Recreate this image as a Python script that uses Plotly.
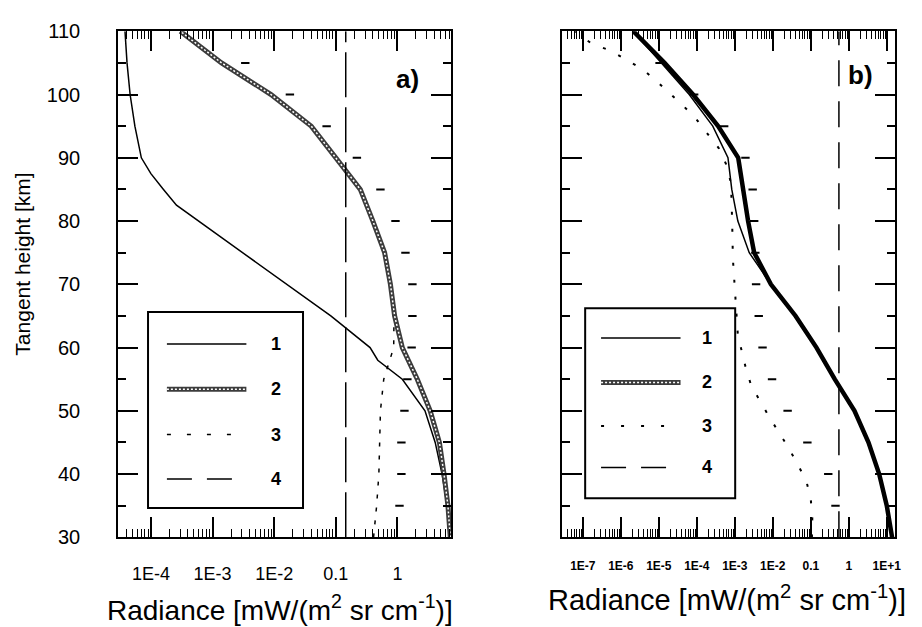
import plotly.graph_objects as go

# ---------------- panel a) ----------------
h_a1 = [30, 35, 40, 45, 50, 55, 58, 60, 65, 70, 75, 80, 82.5, 85, 87.5, 90, 95, 100, 105, 110]
rad_a1 = [7.2, 6.4, 5.3, 4.1, 2.8, 1.2, 0.48, 0.36, 0.083, 0.016, 3.2e-3, 5.9e-4, 2.6e-4,
          1.6e-4, 1.0e-4, 7e-5, 5.5e-5, 4.6e-5, 4.1e-5, 3.8e-5]

h_a2 = [30, 35, 40, 45, 50, 55, 60, 65, 70, 75, 80, 85, 90, 95, 100, 105, 110]
rad_a2 = [7.2, 6.6, 5.7, 4.8, 3.4, 2.1, 1.2, 0.9, 0.77, 0.62, 0.4, 0.25, 0.10, 0.04,
          8.9e-3, 1.4e-3, 3.0e-4]

h_a3 = [30, 35, 40, 45, 50, 55, 57.5, 60, 65, 70, 75, 80, 85, 90, 95, 100, 105, 110]
rad_a3 = [0.41, 0.46, 0.50, 0.51, 0.53, 0.60, 0.72, 0.87, 0.88, 0.75, 0.60, 0.39, 0.24,
          0.097, 0.038, 8.5e-3, 1.35e-3, 2.9e-4]

h_a4 = [30, 110]
rad_a4 = [0.145, 0.145]

h_a_tick = [35, 40, 45, 50, 55, 60, 65, 70, 75, 80, 85, 90, 95, 100, 105]
rad_a_tick = [1.08, 1.16, 1.16, 1.3, 1.45, 1.7, 1.75, 1.75, 1.35, 0.93, 0.53, 0.22,
              0.071, 0.018, 3.4e-3]

# ---------------- panel b) ----------------
h_b = [30, 35, 40, 45, 50, 55, 60, 65, 70, 75, 80, 85, 90, 95, 100, 105, 110]
log_b1 = [1.14, 1.0, 0.80, 0.52, 0.15, -0.37, -0.85, -1.40, -2.05, -2.62, -2.92, -3.08,
          -3.18, -3.58, -4.20, -4.93, -5.67]
log_b2 = [1.14, 1.0, 0.80, 0.52, 0.15, -0.37, -0.85, -1.40, -2.05, -2.49, -2.65, -2.78,
          -2.91, -3.44, -4.10, -4.85, -5.67]

h_b3 = [30, 33, 36, 39, 44, 49, 54, 57, 62, 68, 74, 80, 86, 89, 91.5, 93.5, 96, 98, 100,
        102, 104, 105.5, 107, 108, 110]
log_b3 = [-0.97, -0.96, -1.0, -1.12, -1.57, -2.09, -2.57, -2.72, -2.92, -2.98, -3.05,
          -3.07, -3.10, -3.23, -3.42, -3.68, -4.0, -4.32, -4.67, -5.04, -5.43, -5.85,
          -6.29, -6.76, -7.2]

h_b4 = [30, 110]
rad_b4 = [0.55, 0.55]

h_b_tick = [35, 40, 45, 50, 55, 60, 65, 70, 75, 80, 85, 90, 95, 100, 105]
log_b_tick = [-0.35, -0.54, -1.09, -1.61, -2.02, -2.27, -2.37, -2.44, -2.46, -2.49,
              -2.53, -2.72, -3.28, -4.07, -4.98]

heights = [30, 40, 50, 60, 70, 80, 90, 100, 110]
ticks_a = [1e-4, 1e-3, 1e-2, 0.1, 1]
ticklabels_a = ["1E-4", "1E-3", "1E-2", "0.1", "1"]
ticks_b = [1e-7, 1e-6, 1e-5, 1e-4, 1e-3, 1e-2, 0.1, 1, 10]
ticklabels_b = ["1E-7", "1E-6", "1E-5", "1E-4", "1E-3", "1E-2", "0.1", "1", "1E+1"]

FONT = "Liberation Sans, Arial, sans-serif"
W, H = 922, 627


def px(x):
    return x / W


def py(y):
    return 1 - y / H


def pow10(vals):
    return [10 ** v for v in vals]


def minor_vals(e_lo, e_hi):
    return [m * 10.0 ** e for e in range(e_lo, e_hi + 1) for m in range(2, 10)]


fig = go.Figure()

# panel a curves
fig.add_trace(go.Scatter(x=rad_a1, y=h_a1, mode="lines", line=dict(color="black", width=1.5),
                         name="1", xaxis="x", yaxis="y"))
fig.add_trace(go.Scatter(x=rad_a3, y=h_a3, mode="lines",
                         line=dict(color="black", width=1.5, dash="4px,9px"),
                         name="3", xaxis="x", yaxis="y"))
fig.add_trace(go.Scatter(x=rad_a2, y=h_a2, mode="lines", line=dict(color="#3c3c3c", width=5),
                         name="2", xaxis="x", yaxis="y"))
fig.add_trace(go.Scatter(x=rad_a2, y=h_a2, mode="lines",
                         line=dict(color="white", width=1.5, dash="2px,2px"),
                         showlegend=False, hoverinfo="skip", xaxis="x", yaxis="y"))
fig.add_trace(go.Scatter(x=rad_a4, y=h_a4, mode="lines",
                         line=dict(color="black", width=1.5, dash="45px,10px"),
                         name="4", xaxis="x", yaxis="y"))
fig.add_trace(go.Scatter(x=rad_a_tick, y=h_a_tick, mode="markers",
                         marker=dict(symbol="line-ew", size=6, line=dict(color="black", width=2)),
                         showlegend=False, xaxis="x", yaxis="y"))

# panel b curves
fig.add_trace(go.Scatter(x=pow10(log_b3), y=h_b3, mode="lines",
                         line=dict(color="black", width=2, dash="3px,14px"),
                         name="3", xaxis="x2", yaxis="y2"))
fig.add_trace(go.Scatter(x=pow10(log_b2), y=h_b, mode="lines", line=dict(color="black", width=4.5),
                         name="2", xaxis="x2", yaxis="y2"))
fig.add_trace(go.Scatter(x=pow10(log_b1), y=h_b, mode="lines", line=dict(color="black", width=1.5),
                         name="1", xaxis="x2", yaxis="y2"))
fig.add_trace(go.Scatter(x=rad_b4, y=h_b4, mode="lines",
                         line=dict(color="black", width=1.5, dash="26px,15px"),
                         name="4", xaxis="x2", yaxis="y2"))
fig.add_trace(go.Scatter(x=pow10(log_b_tick), y=h_b_tick, mode="markers",
                         marker=dict(symbol="line-ew", size=6, line=dict(color="black", width=2)),
                         showlegend=False, xaxis="x2", yaxis="y2"))

ydom = [py(545.5), py(21)]

common_x = dict(type="log", showline=True, linewidth=2, linecolor="black", mirror="ticks",
                ticks="inside", ticklen=20, tickwidth=1.5, tickcolor="black",
                showgrid=False, zeroline=False)
common_y = dict(range=[30, 110], domain=ydom, showline=True, linewidth=2, linecolor="black",
                mirror="ticks", ticks="inside", ticklen=20, tickwidth=1.5, tickcolor="black",
                tickmode="array", tickvals=heights, showgrid=False, zeroline=False,
                minor=dict(ticks="inside", ticklen=8, tickwidth=1.5, tickcolor="black", dtick=5,
                           tick0=0, showgrid=False))

fig.update_layout(
    width=W, height=H, margin=dict(l=0, r=0, t=0, b=0),
    paper_bgcolor="white", plot_bgcolor="white", showlegend=False,
    font=dict(family=FONT, color="black"),
    xaxis=dict(common_x, domain=[px(119), px(454)], range=[-4.53, 0.87], anchor="y",
               tickmode="array", tickvals=ticks_a, ticktext=ticklabels_a,
               tickfont=dict(size=18), ticklabelstandoff=19,
               minor=dict(ticks="inside", ticklen=8, tickwidth=1.2, tickcolor="black",
                          tickmode="array", tickvals=minor_vals(-5, 0), showgrid=False)),
    yaxis=dict(common_y, anchor="x", tickfont=dict(size=20), ticklabelstandoff=32),
    xaxis2=dict(common_x, domain=[px(566), px(901)], range=[-7.54, 1.22], anchor="y2",
                tickmode="array", tickvals=ticks_b, ticktext=ticklabels_b,
                tickfont=dict(size=12, weight="bold"), ticklabelstandoff=16,
                minor=dict(ticks="inside", ticklen=8, tickwidth=1.2, tickcolor="black",
                           tickmode="array", tickvals=minor_vals(-8, 1), showgrid=False)),
    yaxis2=dict(common_y, anchor="x2", showticklabels=False),
)

# axis titles
title_txt = "Radiance [mW/(m<sup>2</sup> sr cm<sup>-1</sup>)]"
fig.add_annotation(x=px(282), y=py(619), xref="paper", yref="paper", text=title_txt,
                   xanchor="center", yanchor="middle", showarrow=False, font=dict(size=28))
fig.add_annotation(x=px(732), y=py(608), xref="paper", yref="paper", text=title_txt,
                   xanchor="center", yanchor="middle", showarrow=False, font=dict(size=29))
fig.add_annotation(x=px(23), y=py(262), xref="paper", yref="paper", text="Tangent height [km]",
                   textangle=-90, xanchor="center", yanchor="middle", showarrow=False,
                   font=dict(size=21))

# panel tags
fig.add_annotation(x=px(410), y=py(70), xref="paper", yref="paper", text="<b>a)</b>",
                   xanchor="center", yanchor="middle", showarrow=False, font=dict(size=26))
fig.add_annotation(x=px(866), y=py(66), xref="paper", yref="paper", text="<b>b)</b>",
                   xanchor="center", yanchor="middle", showarrow=False, font=dict(size=26))


# hand-drawn legend boxes
def legend_box(x0, x1, y0, y1, rows, sx0, sx1, nx, styles):
    fig.add_shape(type="rect", xref="paper", yref="paper", x0=px(x0), x1=px(x1),
                  y0=py(y1), y1=py(y0), line=dict(color="black", width=2),
                  fillcolor="white", layer="above")
    for (label, yy), st in zip(rows, styles):
        for s in st:
            fig.add_shape(type="line", xref="paper", yref="paper", x0=px(sx0), x1=px(sx1),
                          y0=py(yy), y1=py(yy), line=s, layer="above")
        fig.add_annotation(x=px(nx), y=py(yy), xref="paper", yref="paper",
                           xanchor="center", yanchor="middle",
                           text="<b>%s</b>" % label, showarrow=False, font=dict(size=18))


styles_a = [
    [dict(color="black", width=1.5)],
    [dict(color="#3c3c3c", width=5), dict(color="white", width=1.5, dash="2px,2px")],
    [dict(color="black", width=1.5, dash="4px,16px")],
    [dict(color="black", width=1.5, dash="25px,15px")],
]
styles_b = [
    [dict(color="black", width=1.5)],
    [dict(color="#3c3c3c", width=5), dict(color="white", width=1.5, dash="2px,2px")],
    [dict(color="black", width=2, dash="3px,17px")],
    [dict(color="black", width=1.5, dash="25px,15px")],
]
legend_box(149, 305, 312, 515, [("1", 345), ("2", 392), ("3", 439), ("4", 485)],
           168, 248, 278, styles_a)
legend_box(589, 740, 308, 505, [("1", 339), ("2", 385), ("3", 430), ("4", 473)],
           605, 685, 712, styles_b)

fig.write_html("out.html")
